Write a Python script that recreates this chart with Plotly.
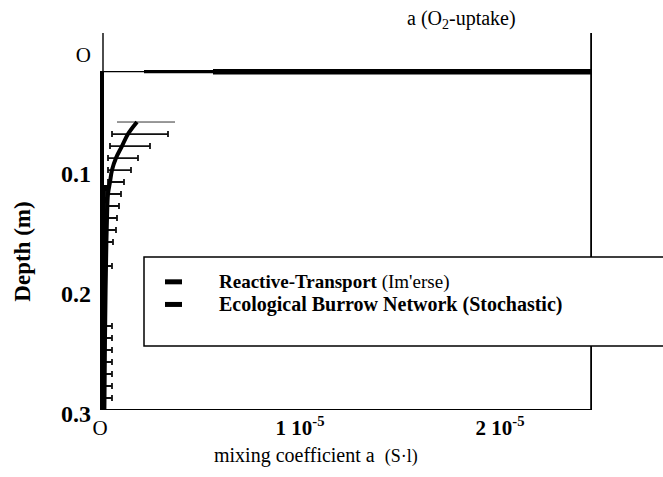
import plotly.graph_objects as go

# Mixing coefficient values are in units of 1e-5 s^-1, depths in metres.

# O2-uptake estimate near the sediment surface: depth and segment breaks along the x axis
o2_depth = 0.018
o2_breaks = [0.0, 0.22, 0.565, 2.46]

# Reactive-transport (inverse) model: piecewise-constant layers
rt_top = [0.018, 0.1125, 0.1725]
rt_bottom = [0.1125, 0.1725, 0.30]
rt_value = [0.02, 0.04, 0.03]

# Ecological burrow network (stochastic): mean profile
curve_depth = [0.06, 0.07, 0.08, 0.09, 0.10, 0.11, 0.12, 0.14, 0.16, 0.18, 0.20, 0.24, 0.30]
curve_value = [0.185, 0.14, 0.11, 0.08, 0.06, 0.05, 0.04, 0.035, 0.032, 0.03, 0.028, 0.025, 0.022]

# Stochastic spread (min / max) at each sampled depth
bar_depth = [0.07, 0.08, 0.09, 0.10, 0.11, 0.12, 0.13, 0.14, 0.15, 0.16, 0.18,
             0.23, 0.24, 0.25, 0.26, 0.27, 0.28, 0.29]
bar_lo = [0.06, 0.05, 0.04, 0.04, 0.04, 0.03, 0.03, 0.03, 0.03, 0.03, 0.025,
          0.025, 0.025, 0.025, 0.025, 0.025, 0.025, 0.025]
bar_hi = [0.34, 0.25, 0.19, 0.155, 0.12, 0.105, 0.095, 0.085, 0.08, 0.065, 0.06,
          0.06, 0.06, 0.06, 0.06, 0.06, 0.06, 0.06]
top_bar_depth = [0.06]
top_bar_lo = [0.085]
top_bar_hi = [0.375]

x_tickvals = [0, 1, 2]
x_ticktext = ["O", "<b>1 10<sup>-5</sup></b>", "<b>2 10<sup>-5</sup></b>"]
y_tickvals = [0, 0.1, 0.2, 0.3]
y_ticktext = ["<span style='font-weight:normal;font-size:21px'>O</span>",
              "<b>0.1</b>", "<b>0.2</b>", "<b>0.3</b>"]

FONT = "Liberation Serif"
X_MAX = o2_breaks[-1]

fig = go.Figure()

# reactive-transport layers as horizontal bars from zero
fig.add_trace(go.Bar(
    orientation="h",
    y=[(t + b) / 2 for t, b in zip(rt_top, rt_bottom)],
    x=rt_value,
    width=[b - t for t, b in zip(rt_top, rt_bottom)],
    base=0,
    marker=dict(color="black", line=dict(width=0)),
    showlegend=False,
    hoverinfo="skip",
))

# O2-uptake line, drawn thin / medium / thick
for (x0, x1), w in zip(zip(o2_breaks[:-1], o2_breaks[1:]), [1.2, 3.2, 5.5]):
    fig.add_trace(go.Scatter(
        x=[x0, x1], y=[o2_depth, o2_depth], mode="lines",
        line=dict(color="black", width=w), showlegend=False, hoverinfo="skip",
    ))

# stochastic spread
fig.add_trace(go.Scatter(
    x=bar_lo, y=bar_depth, mode="markers",
    marker=dict(size=1, color="rgba(0,0,0,0)"),
    error_x=dict(type="data", symmetric=False,
                 array=[h - l for h, l in zip(bar_hi, bar_lo)],
                 arrayminus=[0] * len(bar_lo),
                 color="#111", thickness=1.8, width=3),
    showlegend=False, hoverinfo="skip",
))
fig.add_trace(go.Scatter(
    x=top_bar_lo, y=top_bar_depth, mode="markers",
    marker=dict(size=1, color="rgba(0,0,0,0)"),
    error_x=dict(type="data", symmetric=False,
                 array=[h - l for h, l in zip(top_bar_hi, top_bar_lo)],
                 arrayminus=[0], color="#333", thickness=1, width=0),
    showlegend=False, hoverinfo="skip",
))

# stochastic mean profile
fig.add_trace(go.Scatter(
    x=curve_value, y=curve_depth, mode="lines",
    line=dict(color="black", width=4, shape="spline"),
    showlegend=False, hoverinfo="skip",
))

shapes = [
    # left axis
    dict(type="line", xref="x", yref="paper", x0=0.015, x1=0.015, y0=0, y1=1,
         line=dict(color="black", width=1.4)),
    # bottom axis
    dict(type="line", xref="x", yref="y", x0=0.01, x1=X_MAX, y0=0.3, y1=0.3,
         line=dict(color="black", width=2)),
    # right frame
    dict(type="line", xref="x", yref="paper", x0=X_MAX - 0.004, x1=X_MAX - 0.004, y0=0, y1=1,
         line=dict(color="black", width=2)),
    # legend box
    dict(type="rect", xref="paper", yref="paper", x0=0.104, x1=1.25, y0=0.170, y1=0.406,
         fillcolor="white", line=dict(color="black", width=1.5)),
    # legend keys
    dict(type="line", xref="paper", yref="paper", x0=0.146, x1=0.180, y0=0.340, y1=0.340,
         line=dict(color="black", width=5)),
    dict(type="line", xref="paper", yref="paper", x0=0.146, x1=0.180, y0=0.280, y1=0.280,
         line=dict(color="black", width=5)),
]

annotations = [
    dict(text="a (O<sub>2</sub>-uptake)", xref="paper", yref="paper", x=0.738, y=1.035,
         xanchor="center", yanchor="middle",
         showarrow=False, font=dict(family=FONT, size=20, color="black")),
    dict(text="<b>Reactive-Transport</b> (Im'erse)", xref="paper", yref="paper",
         x=0.252, y=0.340, xanchor="left", yanchor="middle", showarrow=False,
         borderpad=0, font=dict(family=FONT, size=19, color="black")),
    dict(text="<b>Ecological Burrow Network (Stochastic)</b>", xref="paper", yref="paper",
         x=0.252, y=0.280, xanchor="left", yanchor="middle", showarrow=False,
         borderpad=0, font=dict(family=FONT, size=20, color="black")),
    dict(text="<b>Depth (m)</b>", xref="paper", yref="paper", x=-0.138, y=0.42,
         textangle=-90, showarrow=False, xanchor="center", yanchor="middle",
         font=dict(family=FONT, size=23, color="black")),
    dict(text="mixing coefficient a  <span style='font-size:18px'>(S·l)</span>",
         xref="paper", yref="paper", x=0.242, y=-0.122, showarrow=False,
         xanchor="left", yanchor="middle", borderpad=0,
         font=dict(family=FONT, size=20, color="black")),
]

fig.update_layout(
    width=663, height=477,
    margin=dict(l=92, r=71, t=33, b=67),
    paper_bgcolor="white", plot_bgcolor="white",
    bargap=0,
    shapes=shapes, annotations=annotations,
    xaxis=dict(range=[-0.04, X_MAX], showgrid=False, zeroline=False, showline=False,
               tickvals=x_tickvals, ticktext=x_ticktext, ticks="",
               tickfont=dict(family=FONT, size=21, color="black"),
               ticklabelstandoff=3),
    yaxis=dict(range=[0.3, -0.0142], showgrid=False, zeroline=False, showline=False,
               tickvals=y_tickvals, ticktext=y_ticktext, ticks="",
               tickfont=dict(family=FONT, size=24, color="black"),
               ticklabelshift=-4),
)

fig.write_html("out.html")
